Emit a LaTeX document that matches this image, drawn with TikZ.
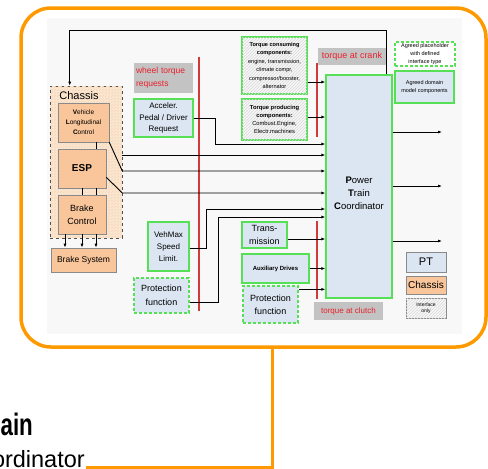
\documentclass[tikz,border=0pt]{standalone}
\usepackage{fontspec}
\setmainfont{Liberation Sans}
\usetikzlibrary{calc,patterns,arrows.meta}
\definecolor{frameor}{HTML}{FF9900}
\definecolor{chfill}{HTML}{F9C59A}
\definecolor{grpfill}{HTML}{FBE6CF}
\definecolor{ptblue}{HTML}{DCE6F2}
\definecolor{grn}{HTML}{55E055}
\definecolor{lblgrey}{HTML}{C3C3C3}
\definecolor{redtxt}{HTML}{E8202A}
\definecolor{redline}{HTML}{D03A3A}
\definecolor{brdgrey}{HTML}{8A8A8A}
\definecolor{bgpaper}{HTML}{F8F8F8}
\newcommand\fsz[2]{\fontsize{#1}{#2}\selectfont}
\begin{document}
\begin{tikzpicture}[x=1pt,y=-1pt,
  box/.style={draw, inner sep=0pt, align=center, anchor=center},
  chbox/.style={box, draw=brdgrey, fill=chfill, line width=0.6pt},
  ptbox/.style={box, draw=grn, fill=ptblue, line width=1.2pt},
  phbox/.style={box, draw=grn, fill=ptblue, line width=1.3pt, dash pattern=on 3pt off 2pt},
  ifbox/.style={box, draw=grn, fill=gray!6, postaction={pattern=north east lines, pattern color=gray!30}, line width=1.2pt},
  lblbox/.style={box, draw=none, fill=lblgrey, text=redtxt},
  arr/.style={-{Latex[length=4pt,width=3pt]}, line width=0.9pt},
  plain/.style={line width=0.9pt},
  sepline/.style={draw=redline, line width=1.2pt},
  orline/.style={draw=frameor, line width=3.5pt}
]
\useasboundingbox (0,0) rectangle (488,469);
% paper background
\fill[bgpaper] (47,18) rectangle (462,334);
% orange frame
\draw[orline, rounded corners=30pt] (21,8) rectangle (486,347);
\coordinate (fb) at (272,347);
\coordinate (fe) at (86,467);
\draw[orline, line width=3pt] (fb) |- (fe);
% cut-off title text
\node[anchor=base east, inner sep=0pt, font=\fsz{31}{31}\bfseries, xscale=0.72] (ttl) at (33,435) {Domain};
\node[anchor=base east, inner sep=0pt, font=\fsz{23.5}{23.5}] (ttl2) at (85,467) {Power Train Coordinator};

% chassis group
\node[box, draw=black!70, dashed, line width=0.6pt, fill=grpfill,
  postaction={pattern=north east lines, pattern color=chfill!80!brown!60},
  minimum width=72pt, minimum height=152pt] (grp) at (86,162) {};
\node[inner sep=0pt, font=\fsz{11}{11}] (grplbl) at (79,96) {Chassis};
\node[chbox, minimum width=51pt, minimum height=39pt, font=\fsz{6.5}{10}] (vlc) at (83.5,122.5)
  {\textbf{V}ehicle\\\textbf{L}ongitudinal\\\textbf{C}ontrol};
\node[chbox, minimum width=48pt, minimum height=39pt, font=\fsz{10}{12}\bfseries] (esp) at (82,168.5) {ESP};
\node[chbox, minimum width=48pt, minimum height=39pt, font=\fsz{9}{13}] (bc) at (82,214.5) {Brake\\Control};
\node[chbox, minimum width=65pt, minimum height=24pt, font=\fsz{8.5}{10}] (bs) at (83.5,260) {Brake System};

\draw[plain] ($(vlc.south)+(12.5,0)$) -- ($(esp.north)+(14,0)$);
\draw[plain] ($(esp.south)+(0,0)$) -- ($(bc.north)+(0,0)$);
\draw[plain] ($(esp.south)+(14,0)$) -- ($(bc.north)+(14,0)$);
\draw[arr] ($(bc.south)+(-17,0)$) -- ($(bs.north)+(-18.5,0)$);
\draw[arr] (bc.south) -- ($(bs.north)+(-1.5,0)$);
\draw[arr] ($(bc.south)+(14,0)$) -- ($(bs.north)+(12.5,0)$);

% labels
\node[lblbox, minimum width=59pt, minimum height=30pt, text width=55pt, align=left, inner xsep=2pt, font=\fsz{8.5}{13}] (wtr) at (163.5,78) {wheel torque\\requests};
\node[lblbox, minimum width=68pt, minimum height=17pt, font=\fsz{9}{10}] (crank) at (352,56.5) {torque at crank};
\node[lblbox, minimum width=69pt, minimum height=18pt, font=\fsz{8}{10}] (clutch) at (348.5,311) {torque at clutch};

% red separators
\draw[sepline] (199,57) -- (199,311);
\draw[sepline] (317,63) -- (317,137);
\draw[sepline] (317,221) -- (317,299);

% PT boxes
\node[ptbox, minimum width=59pt, minimum height=38pt, font=\fsz{8}{11.5}] (acc) at (163.5,118) {Acceler.\\Pedal / Driver\\Request};
\node[ifbox, minimum width=65pt, minimum height=57pt, font=\fsz{5.6}{8.4}] (tcc) at (274.5,65.5)
  {\textbf{Torque consuming}\\\textbf{components:}\\engine, transmission,\\climate compr,\\compressor/booster,\\alternator};
\node[ifbox, minimum width=65pt, minimum height=41pt, font=\fsz{5.8}{8}] (tpc) at (274.5,119.5)
  {\textbf{Torque producing}\\\textbf{components:}\\Combust.Engine,\\Electr.machines};
\node[ptbox, minimum width=66pt, minimum height=223pt, text depth=0pt] (ptc) at (359,186.5) {};
\node[inner sep=0pt, align=center, font=\fsz{9.5}{13}] (ptctxt) at (359,193) {\textbf{P}ower\\\textbf{T}rain\\\textbf{C}oordinator};
\node[ptbox, minimum width=41pt, minimum height=49pt, font=\fsz{8}{12}] (vms) at (168.5,246.5) {VehMax\\Speed\\Limit.};
\node[phbox, minimum width=55pt, minimum height=35pt, font=\fsz{9}{13.5}] (pf1) at (161.5,295.5) {Protection\\function};
\node[ptbox, minimum width=45pt, minimum height=26pt, font=\fsz{9}{13.5}] (trans) at (264.5,235) {Trans-\\mission};
\node[ptbox, minimum width=67pt, minimum height=29pt, font=\fsz{6}{8}\bfseries] (aux) at (275.5,268.5) {Auxiliary Drives};
\node[phbox, minimum width=55pt, minimum height=37pt, font=\fsz{9}{13}] (pf2) at (270.5,304.5) {Protection\\function};

% legend
\node[box, draw=grn, fill=white, line width=1.3pt, dash pattern=on 3pt off 2pt, minimum width=60pt, minimum height=24pt, font=\fsz{5.5}{8}] (leg1) at (425,54) {Agreed placeholder\\with defined\\interface type};
\node[ptbox, minimum width=59pt, minimum height=32pt, font=\fsz{5.5}{8}] (leg2) at (424.5,87) {Agreed domain\\model components};
\node[box, draw=brdgrey, fill=ptblue, line width=0.8pt, minimum width=40pt, minimum height=20pt, font=\fsz{11}{12}] (legpt) at (426,262) {PT};
\node[box, draw=brdgrey, fill=chfill, line width=0.8pt, minimum width=40pt, minimum height=18pt, font=\fsz{10}{12}] (legch) at (426,285) {Chassis};
\node[box, draw=brdgrey, fill=gray!6, postaction={pattern=north east lines, pattern color=gray!30}, line width=0.8pt, minimum width=40pt, minimum height=20pt, font=\fsz{5}{6}] (legif) at (426,308) {Interface\\only};

% connectors into PTC
\draw[arr] ($(tcc.east)+(0,16.5)$) coordinate (c1) -- (c1 -| ptc.west);
\draw[arr] ($(tpc.east)+(0,-2.5)$) coordinate (c2) -- (c2 -| ptc.west);
\draw[arr] (acc.east) -- ++(22,0) |- ($(ptc.west)+(0,-42.5)$);
\draw[arr] ($(grp.east)+(0,-7)$) coordinate (c3) -- (c3 -| ptc.west);
\draw[arr] (vlc.south east) -- ($(grp.east)+(0,9)$) coordinate (c4) -- (c4 -| ptc.west);
\draw[arr] ($(esp.south east)+(0,-11)$) -- ($(grp.east)+(0,31)$) coordinate (c5) -- (c5 -| ptc.west);
\draw[arr] ($(vms.east)+(0,1.5)$) -- ++(17,0) |- ($(ptc.west)+(0,22.5)$);
\draw[arr] ($(pf1.east)+(0,6.5)$) -- ++(29,0) |- ($(ptc.west)+(0,30.5)$);
\draw[arr] ($(trans.east)+(0,4)$) coordinate (c6) -- (c6 -| ptc.west);
\draw[arr] (aux.east) -- (aux.east -| ptc.west);
\draw[arr] ($(pf2.north east)+(0,4)$) coordinate (c7) -- (c7 -| ptc.west);
% feedback to chassis
\draw[arr] ($(ptc.north east)+(-6,0)$) -- ++(0,-44) -| ($(grp.north west)+(20,0)$);
% outputs
\coordinate (o1) at (442,132);
\coordinate (o2) at (442,186);
\coordinate (o3) at (442,241);
\draw[arr] (o1 -| ptc.east) -- (o1);
\draw[arr] (o2 -| ptc.east) -- (o2);
\draw[arr] (o3 -| ptc.east) -- (o3);
\end{tikzpicture}
\end{document}
